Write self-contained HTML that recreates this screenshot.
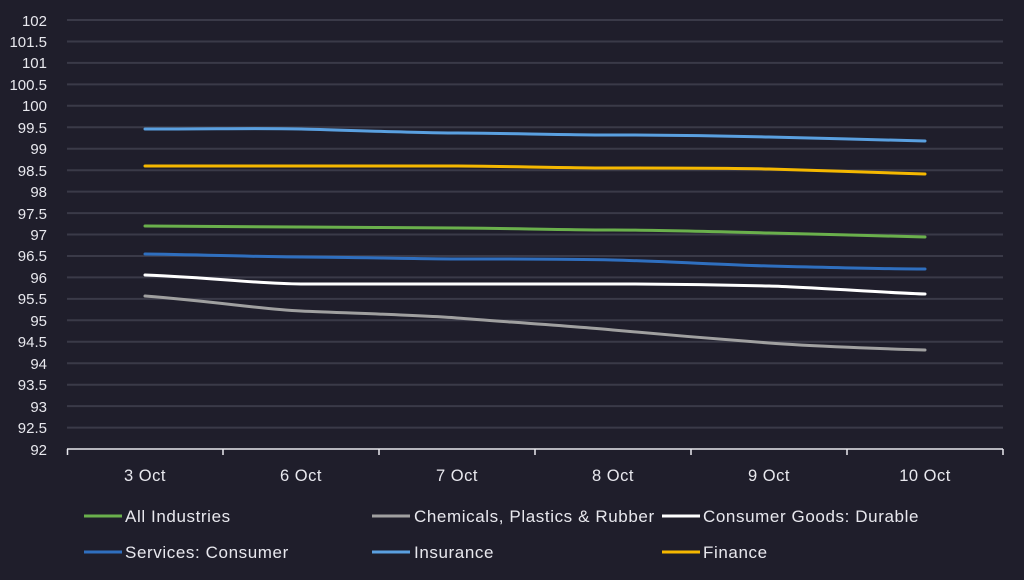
<!DOCTYPE html><html><head><style>body{margin:0;background:#1f1e2b;}svg{display:block;font-family:"Liberation Sans",sans-serif;}</style></head><body>
<svg width="1024" height="580" xmlns="http://www.w3.org/2000/svg">
<rect width="1024" height="580" fill="#1f1e2b"/>
<g stroke="#3a3a48" stroke-width="2">
<line x1="67" x2="1003" y1="20" y2="20"/><line x1="67" x2="1003" y1="41.5" y2="41.5"/><line x1="67" x2="1003" y1="62.9" y2="62.9"/><line x1="67" x2="1003" y1="84.4" y2="84.4"/><line x1="67" x2="1003" y1="105.8" y2="105.8"/><line x1="67" x2="1003" y1="127.3" y2="127.3"/><line x1="67" x2="1003" y1="148.7" y2="148.7"/><line x1="67" x2="1003" y1="170.2" y2="170.2"/><line x1="67" x2="1003" y1="191.6" y2="191.6"/><line x1="67" x2="1003" y1="213.1" y2="213.1"/><line x1="67" x2="1003" y1="234.5" y2="234.5"/><line x1="67" x2="1003" y1="256" y2="256"/><line x1="67" x2="1003" y1="277.4" y2="277.4"/><line x1="67" x2="1003" y1="298.9" y2="298.9"/><line x1="67" x2="1003" y1="320.3" y2="320.3"/><line x1="67" x2="1003" y1="341.8" y2="341.8"/><line x1="67" x2="1003" y1="363.2" y2="363.2"/><line x1="67" x2="1003" y1="384.7" y2="384.7"/><line x1="67" x2="1003" y1="406.1" y2="406.1"/><line x1="67" x2="1003" y1="427.6" y2="427.6"/>
</g>
<g fill="#e8e8ee" font-size="15" text-anchor="end">
<text x="47" y="26">102</text><text x="47" y="47">101.5</text><text x="47" y="68">101</text><text x="47" y="90">100.5</text><text x="47" y="111">100</text><text x="47" y="133">99.5</text><text x="47" y="154">99</text><text x="47" y="176">98.5</text><text x="47" y="197">98</text><text x="47" y="219">97.5</text><text x="47" y="240">97</text><text x="47" y="261">96.5</text><text x="47" y="283">96</text><text x="47" y="304">95.5</text><text x="47" y="326">95</text><text x="47" y="347">94.5</text><text x="47" y="369">94</text><text x="47" y="390">93.5</text><text x="47" y="412">93</text><text x="47" y="433">92.5</text><text x="47" y="455">92</text>
</g>
<g stroke="#e8e8ee" stroke-width="1.5">
<line x1="67" x2="1003" y1="449" y2="449"/>
<line x1="67.5" x2="67.5" y1="449" y2="455"/><line x1="223" x2="223" y1="449" y2="455"/><line x1="379" x2="379" y1="449" y2="455"/><line x1="535" x2="535" y1="449" y2="455"/><line x1="691" x2="691" y1="449" y2="455"/><line x1="847" x2="847" y1="449" y2="455"/><line x1="1003" x2="1003" y1="449" y2="455"/>
</g>
<g fill="#e8e8ee" font-size="16.5" letter-spacing="0.5" text-anchor="middle">
<text x="145" y="481">3 Oct</text><text x="301" y="481">6 Oct</text><text x="457" y="481">7 Oct</text><text x="613" y="481">8 Oct</text><text x="769" y="481">9 Oct</text><text x="925" y="481">10 Oct</text>
</g>
<g fill="none" stroke-width="3" stroke-linecap="round" stroke-linejoin="round">
<path stroke="#5aa0e0" d="M145 129 C220 129,260 128,301 129 S420 133,457 133 S570 135,613 135 S730 136,769 137 S890 140,925 141"/>
<path stroke="#f5b800" d="M145 166 L301 166 C380 166,420 166,457 166 S570 168,613 168 S730 168,769 169 S890 173,925 174"/>
<path stroke="#6ab04c" d="M145 226 C220 226,260 227,301 227 S420 228,457 228 S570 230,613 230 S730 232,769 233 S890 236,925 237"/>
<path stroke="#2f6fbf" d="M145 254 C220 255,260 257,301 257 S420 259,457 259 S570 259,613 260 S730 265,769 266 S890 269,925 269"/>
<path stroke="#ffffff" d="M145 275 C220 278,260 284,301 284 S420 284,457 284 S570 284,613 284 S730 285,769 286 S890 293,925 294"/>
<path stroke="#a0a0a0" d="M145 296 C220 302,260 309,301 311 S420 315,457 318 S570 326,613 330 S730 340,769 343 S890 349,925 350"/>
</g>
<g stroke-width="3">
<line x1="84" x2="122" y1="516" y2="516" stroke="#6ab04c"/>
<line x1="372" x2="410" y1="516" y2="516" stroke="#a0a0a0"/>
<line x1="662" x2="700" y1="516" y2="516" stroke="#ffffff"/>
<line x1="84" x2="122" y1="552" y2="552" stroke="#2f6fbf"/>
<line x1="372" x2="410" y1="552" y2="552" stroke="#5aa0e0"/>
<line x1="662" x2="700" y1="552" y2="552" stroke="#f5b800"/>
</g>
<g fill="#e8e8ee" font-size="17" letter-spacing="0.6">
<text x="125" y="522">All Industries</text><text x="414" y="522">Chemicals, Plastics &amp; Rubber</text><text x="703" y="522">Consumer Goods: Durable</text>
<text x="125" y="558">Services: Consumer</text><text x="414" y="558">Insurance</text><text x="703" y="558">Finance</text>
</g>
</svg></body></html>
